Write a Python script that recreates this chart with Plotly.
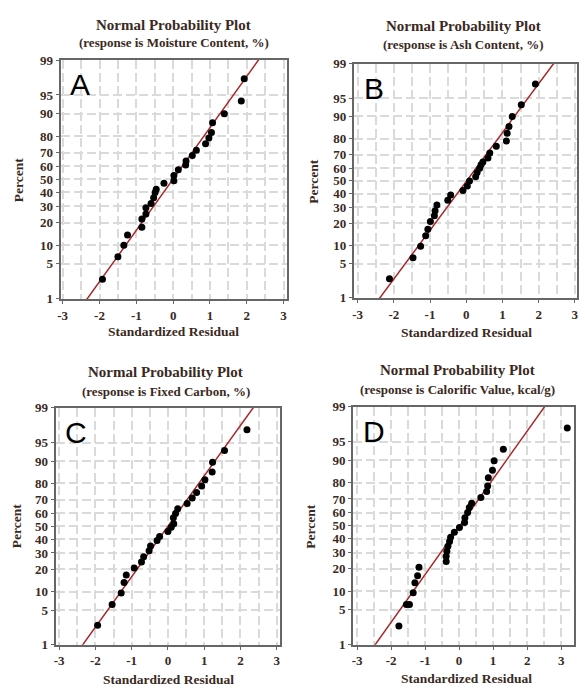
import plotly.graph_objects as go
from statistics import NormalDist

ND = NormalDist()

# ---------------- data ----------------
pct_ticks = [1, 5, 10, 20, 30, 40, 50, 60, 70, 80, 90, 95, 99]
x_ticks = [-3, -2, -1, 0, 1, 2, 3]

panel_letters = ["A", "B", "C", "D"]
responses = ["Moisture Content, %", "Ash Content, %", "Fixed Carbon, %", "Calorific Value, kcal/g"]

a_resid = [-1.92, -1.50, -1.34, -1.24, -0.85, -0.85, -0.74, -0.74, -0.60, -0.53, -0.49, -0.46, -0.25, 0.02,
           0.02, 0.14, 0.34, 0.35, 0.52, 0.63, 0.88, 0.97, 1.04, 1.07, 1.39, 1.85, 1.93]
a_pct = [2.6, 6.6, 10.0, 14.0, 17.6, 22.0, 25.0, 29.0, 32.0, 36.0, 40.0, 42.5, 47.0, 49.0,
         53.0, 57.5, 61.0, 64.0, 68.0, 71.5, 75.7, 79.0, 82.0, 86.5, 90.0, 93.7, 97.5]

b_resid = [-2.12, -1.47, -1.26, -1.12, -1.06, -0.99, -0.88, -0.86, -0.81, -0.51, -0.43, -0.09, 0.03, 0.09,
           0.26, 0.30, 0.37, 0.41, 0.46, 0.60, 0.65, 0.83, 1.11, 1.13, 1.18, 1.27, 1.52, 1.91]
b_pct = [2.6, 6.3, 9.7, 13.8, 16.8, 21.0, 24.5, 27.7, 31.6, 35.0, 39.0, 42.5, 46.0, 50.0,
         53.3, 56.7, 60.0, 62.7, 64.6, 67.5, 71.0, 75.5, 78.6, 82.8, 86.0, 90.0, 93.5, 97.3]

c_resid = [-1.94, -1.54, -1.29, -1.21, -1.15, -0.93, -0.73, -0.67, -0.52, -0.48, -0.30, -0.23, 0.00, 0.09,
           0.16, 0.15, 0.21, 0.27, 0.53, 0.67, 0.79, 0.93, 1.02, 1.22, 1.23, 1.56, 2.18]
c_pct = [2.6, 6.2, 9.5, 13.5, 17.0, 20.6, 24.2, 27.5, 31.5, 35.0, 39.0, 42.0, 46.0, 49.2,
         52.0, 56.7, 60.0, 63.4, 67.2, 71.0, 74.6, 78.5, 82.0, 85.7, 89.6, 93.2, 97.1]

d_resid = [-1.77, -1.55, -1.46, -1.35, -1.30, -1.22, -1.18, -0.38, -0.38, -0.36, -0.33, -0.28, -0.25, -0.14,
           0.01, 0.16, 0.17, 0.25, 0.30, 0.37, 0.64, 0.81, 0.84, 0.86, 0.98, 1.03, 1.30, 3.18]
d_pct = [2.5, 6.2, 6.2, 9.5, 13.3, 16.4, 20.9, 24.2, 27.6, 30.9, 34.4, 37.9, 41.2, 44.9,
         48.7, 52.5, 56.3, 60.3, 64.0, 67.0, 71.0, 74.9, 78.2, 82.6, 86.1, 89.8, 93.3, 97.2]

fit_mean = [-0.01, 0.01, 0.00, 0.02]
fit_sd = [1.00, 1.03, 1.01, 1.07]

x_ranges = [[-3.06, 3.08], [-3.10, 3.06], [-3.10, 3.08], [-3.12, 3.38]]

# ---------------- layout geometry ----------------
W, H = 585, 693
boxes = [  # left, right, top, bottom in pixels
    (58, 286, 54, 298),
    (354, 579, 58, 297),
    (53, 279, 409, 651),
    (353, 576, 408, 651),
]
title_pos = [(172, 18, 36), (464, 19, 38), (164, 373, 392), (458, 370, 390)]
xtitle_pos = [(172, 331), (467, 332), (167, 686), (467, 685)]
ytitle_pos = [(16, 177), (313, 178), (13, 530), (310, 530)]

TEXT = "#3a2a1e"
SERIF = "Liberation Serif"
GRID = "#dadada"

resids = [a_resid, b_resid, c_resid, d_resid]
pcts = [a_pct, b_pct, c_pct, d_pct]

fig = go.Figure()
ylo, yhi = ND.inv_cdf(0.01) - 0.002, ND.inv_cdf(0.99) + 0.002
annotations = []
layout = {}
for i in range(4):
    sfx = "" if i == 0 else str(i + 1)
    xa, ya = "x" + sfx, "y" + sfx
    l, r, t, b = boxes[i]
    layout["xaxis" + sfx] = dict(
        domain=[l / W, r / W], range=x_ranges[i], anchor=ya,
        tickvals=x_ticks, ticktext=[str(v) for v in x_ticks],
        ticks="outside", ticklen=3, tickcolor="#666",
        tickfont=dict(family=SERIF, size=13, color=TEXT, weight="bold"),
        showline=True, linecolor="#666", linewidth=2, mirror=True,
        showgrid=True, gridcolor=GRID, gridwidth=1.5, griddash="9px,4px",
        minor=dict(dtick=0.5, tick0=0, showgrid=True, gridcolor=GRID, gridwidth=1.5,
                   griddash="9px,4px", ticks=""),
        zeroline=False, fixedrange=True,
    )
    layout["yaxis" + sfx] = dict(
        domain=[1 - b / H, 1 - t / H], range=[ylo, yhi], anchor=xa,
        tickvals=[ND.inv_cdf(p / 100) for p in pct_ticks],
        ticktext=[str(p) for p in pct_ticks],
        ticks="outside", ticklen=3, tickcolor="#666",
        tickfont=dict(family=SERIF, size=13, color=TEXT, weight="bold"),
        showline=True, linecolor="#666", linewidth=2, mirror=True,
        showgrid=True, gridcolor=GRID, gridwidth=1.5, griddash="9px,4px",
        zeroline=False, fixedrange=True,
    )
    # fitted line
    zs = [-3.0, 3.0]
    fig.add_trace(go.Scatter(
        x=[fit_mean[i] + fit_sd[i] * z for z in zs], y=zs, mode="lines",
        line=dict(color="#a8262a", width=1.5), xaxis=xa, yaxis=ya, showlegend=False,
        hoverinfo="skip"))
    # points
    fig.add_trace(go.Scatter(
        x=resids[i], y=[ND.inv_cdf(p / 100) for p in pcts[i]], mode="markers",
        marker=dict(color="black", size=7), xaxis=xa, yaxis=ya, showlegend=False))

    tx, ty1, ty2 = title_pos[i]
    annotations.append(dict(text="Normal Probability Plot", x=tx / W, y=1 - ty1 / H,
                            xref="paper", yref="paper", showarrow=False, xanchor="center",
                            yanchor="middle", font=dict(family=SERIF, size=15, color=TEXT, weight="bold")))
    annotations.append(dict(text="(response is " + responses[i] + ")", x=tx / W, y=1 - ty2 / H,
                            xref="paper", yref="paper", showarrow=False, xanchor="center",
                            yanchor="middle", font=dict(family=SERIF, size=13, color=TEXT, weight="bold")))
    xx, xy = xtitle_pos[i]
    annotations.append(dict(text="Standardized Residual", x=xx / W, y=1 - xy / H,
                            xref="paper", yref="paper", showarrow=False, xanchor="center",
                            yanchor="middle", font=dict(family=SERIF, size=13.5, color=TEXT, weight="bold")))
    yx, yy = ytitle_pos[i]
    annotations.append(dict(text="Percent", x=yx / W, y=1 - yy / H, textangle=-90,
                            xref="paper", yref="paper", showarrow=False, xanchor="center",
                            yanchor="middle", font=dict(family=SERIF, size=13.5, color=TEXT, weight="bold")))
    annotations.append(dict(text=panel_letters[i], x=0.035, y=0.975,
                            xref=xa + " domain", yref=ya + " domain", showarrow=False,
                            xanchor="left", yanchor="top",
                            font=dict(family="Liberation Sans", size=30, color="black")))

fig.update_layout(
    width=W, height=H, margin=dict(l=0, r=0, t=0, b=0),
    paper_bgcolor="white", plot_bgcolor="white",
    annotations=annotations, **layout,
)

fig.write_html(
    "out.html",
    config={"displayModeBar": False},
    post_script="document.body.style.margin='0px';document.body.style.overflow='hidden';",
)
